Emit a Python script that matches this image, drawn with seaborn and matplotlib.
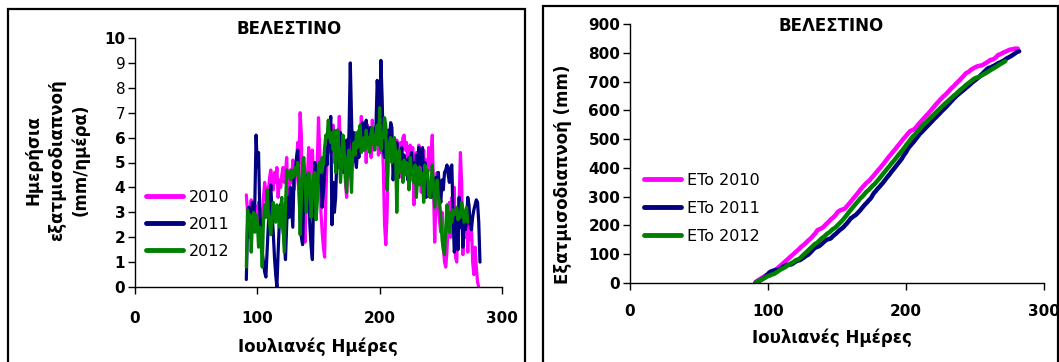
import numpy as np
import pandas as pd
import matplotlib
matplotlib.use("Agg")
import matplotlib.pyplot as plt
from matplotlib.patches import Rectangle
import seaborn as sns

# Daily reference evapotranspiration ETo (mm/day), Velestino, from Julian day 91
first_day = 91
eto_2010 = [
    3.7, 3.0, 3.2, 2.9, 3.5, 2.6, 3.1, 3.3, 2.4, 2.8,
    3.4, 2.1, 1.8, 2.9, 3.6, 4.2, 3.5, 4.0, 3.8, 4.4,
    4.7, 4.1, 3.9, 4.6, 4.2, 4.8, 3.6, 4.3, 4.0, 4.5,
    4.8, 4.2, 4.6, 5.2, 3.8, 3.5, 4.7, 4.2, 5.1, 3.9,
    4.3, 5.0, 5.8, 5.0, 7.0, 6.1, 2.2, 2.5,
    1.8, 3.5, 4.6, 5.6, 4.0, 5.2, 5.5, 4.4, 3.2, 4.8,
    5.0, 6.8, 5.5, 3.0, 2.2, 1.6, 1.2, 3.6, 5.1, 5.8,
    6.2, 5.4, 5.9, 6.5, 5.0, 6.0, 6.3, 5.5, 6.85, 5.2,
    5.8, 4.6, 5.9, 4.2, 3.6, 4.8, 6.0, 5.2, 5.6, 6.2,
    5.4, 6.1, 4.9, 5.7, 6.3, 5.5, 6.85, 6.1, 5.8, 6.6,
    5.0, 6.5, 5.6, 6.0, 5.2, 6.7, 5.5, 6.2, 5.8, 6.4, 5.3, 5.9,
    5.4, 6.0, 4.8, 2.5, 1.7, 2.8, 5.2, 5.8, 6.1, 5.5,
    5.0, 5.6, 4.7, 5.9, 5.2, 4.4, 5.8, 5.4, 6.0, 6.1,
    5.5, 5.8, 4.9, 5.2, 5.7, 4.3, 5.6, 3.3, 5.0, 5.4,
    4.6, 5.7, 5.2, 3.8, 4.8, 5.5, 4.4, 5.1, 4.2, 5.6,
    4.7, 5.2, 6.1, 4.0, 1.8, 3.5, 4.6, 3.2, 2.6,
    2.2, 3.0, 1.6, 1.0, 0.8, 1.4, 2.5, 3.4, 2.0, 3.6,
    2.8, 4.0, 1.2, 1.0, 2.9, 3.5, 5.4, 4.2, 1.3, 2.6,
    2.0, 3.0, 1.4, 2.8, 1.9, 2.5, 1.0, 0.5, 1.6, 0.8, 0.2, 0.0,
]
eto_2011 = [
    0.3, 2.5, 3.2, 2.0, 2.8, 3.4, 2.6, 3.5, 6.1, 4.8,
    5.4, 3.0, 2.2, 1.4, 1.0, 0.6, 0.4, 1.5, 2.5, 3.3,
    4.1, 3.0, 2.2, 1.2, 0.5, 0.0, 1.4, 2.6, 3.3, 3.4,
    2.3, 1.8, 1.1, 2.5, 3.6, 2.8, 4.0, 3.2, 2.4, 4.5,
    4.6, 5.2, 5.5, 4.0, 2.6, 2.0, 1.7, 3.8,
    4.3, 4.2, 4.5, 3.9, 2.4, 1.6, 1.1, 3.5, 5.0, 4.4,
    3.6, 4.8, 4.2, 5.0, 3.2, 3.8, 4.5, 5.6, 4.9, 6.0,
    5.8, 6.85, 2.5, 4.2, 3.0, 3.6, 5.2, 4.8, 5.6, 6.2,
    5.4, 6.0, 4.6, 5.2, 5.9, 4.5, 6.4, 9.0, 6.8, 5.0,
    6.2, 5.4, 4.8, 6.0, 5.2, 6.3, 5.8, 6.6, 5.5, 6.0,
    6.7, 6.2, 5.6, 6.4, 5.9, 6.3, 5.8, 6.1, 6.5, 8.3, 7.5, 6.0,
    9.1, 7.6, 5.6, 5.2, 6.0, 5.5, 6.3, 5.8, 6.6, 6.4,
    4.3, 5.0, 4.6, 5.8, 4.4, 5.2, 4.9, 5.6, 4.8, 5.3,
    4.6, 5.1, 4.3, 5.2, 4.8, 5.4, 4.5, 5.0, 4.2, 5.3,
    4.8, 5.6, 5.4, 4.9, 5.6, 4.3, 5.0, 3.6, 4.4, 3.8,
    4.2, 3.6, 4.5, 4.0, 3.6, 4.4, 4.0, 4.6, 3.7,
    3.4, 4.3, 3.9, 4.6, 4.7, 4.9, 4.5, 4.2, 4.8, 4.9,
    2.8, 1.4, 1.8, 3.0, 1.5, 3.6, 2.4, 3.3, 1.6, 2.7,
    2.3, 2.6, 3.6, 3.3, 2.5, 2.3, 2.8, 3.1, 3.3, 3.5, 3.4, 2.6, 1.0,
]
eto_2012 = [
    0.8, 3.1, 2.5, 2.9, 1.4, 2.6, 3.0, 2.2, 2.9, 2.6,
    1.6, 2.4, 2.0, 0.8, 2.6, 3.3, 2.8, 3.9, 3.0, 2.5,
    2.1, 2.8, 3.4, 3.0, 2.6, 3.3, 3.2, 2.4, 3.1, 3.6,
    2.5, 1.4, 3.2, 4.7, 4.5, 4.6, 4.3, 4.7, 4.4, 4.6,
    4.8, 4.5, 5.0, 4.2, 2.1, 3.5, 4.9, 5.2,
    4.4, 3.0, 4.0, 4.6, 4.2, 2.8, 3.8, 4.5, 4.6, 2.7,
    3.4, 4.8, 5.0, 4.6, 5.2, 4.9, 5.6, 6.1, 6.0, 6.7,
    6.1, 5.8, 6.2, 5.5, 6.3, 4.6, 6.0, 6.3, 5.2, 4.2,
    5.0, 6.1, 5.5, 4.4, 3.8, 5.2, 5.5, 4.7, 3.8, 5.4,
    5.8, 5.3, 6.2, 5.6, 6.0, 6.5, 5.4, 5.8, 6.0, 5.5,
    6.3, 5.6, 6.0, 5.4, 6.2, 6.4, 5.8, 5.5, 6.1, 6.5, 5.7, 7.2,
    5.5, 6.2, 6.0, 6.8, 6.5, 3.9, 5.2, 5.8, 6.0, 5.0,
    5.6, 6.0, 5.4, 3.0, 4.8, 5.5, 4.6, 5.0, 4.2, 5.1,
    4.5, 5.0, 4.8, 3.9, 5.2, 4.6, 4.7, 4.2, 4.9, 3.6,
    4.3, 4.8, 4.1, 4.6, 4.3, 3.4, 4.9, 4.4, 4.7, 3.7,
    3.6, 4.2, 4.9, 4.0, 3.2, 3.9, 4.3, 3.6, 3.4,
    2.8, 1.9, 1.5, 1.3, 2.4, 3.3, 2.8, 2.2, 3.0, 2.6,
    3.1, 2.9, 3.0, 3.2, 2.7, 3.0, 2.8, 3.4, 3.1, 2.6, 2.9, 3.2, 2.6,
]

years = ["2010", "2011", "2012"]
series = [eto_2010, eto_2011, eto_2012]
colors = ["#FF00FF", "#000080", "#008000"]

station = "ΒΕΛΕΣΤΙΝΟ"
x_label = "Ιουλιανές Ημέρες"
y_label_daily = "Ημερήσια\nεξατμισοδιαπνοή\n(mm/ημέρα)"
y_label_cum = "Εξατμισοδιαπνοή (mm)"
cum_prefix = "ETo "

frames = []
for yr, vals in zip(years, series):
    vals = np.asarray(vals, dtype=float)
    frames.append(pd.DataFrame({
        "day": np.arange(first_day, first_day + len(vals)),
        "eto": vals,
        "cum": np.cumsum(vals),
        "year": yr,
    }))
df = pd.concat(frames, ignore_index=True)

sns.set_theme(style="white")
plt.rcParams["font.family"] = ["DejaVu Sans"]
plt.rcParams["text.color"] = "black"
plt.rcParams["axes.labelcolor"] = "black"
plt.rcParams["xtick.color"] = "black"
plt.rcParams["ytick.color"] = "black"

W, H = 1059, 362
fig = plt.figure(figsize=(W / 100, H / 100), dpi=100)
fig.patch.set_facecolor("white")

def fx(px):
    return px / W

def fy(py):
    return 1 - py / H

ax1 = fig.add_axes([fx(135), fy(287), fx(502) - fx(135), fy(38) - fy(287)])
ax2 = fig.add_axes([fx(630), fy(283), fx(1044) - fx(630), fy(24) - fy(283)])

# panel frames
for x0, x1, y0 in [(8, 525, 9), (543, 1058, 6)]:
    fig.patches.append(Rectangle((fx(x0), -0.1), fx(x1) - fx(x0), fy(y0) + 0.1,
                                 transform=fig.transFigure, fill=False,
                                 edgecolor="black", linewidth=1.6, zorder=0))

for yr, col in zip(years, colors):
    sub = df[df["year"] == yr]
    sns.lineplot(data=sub, x="day", y="eto", ax=ax1, color=col, linewidth=2.3,
                 label=yr, estimator=None, sort=False)
    sns.lineplot(data=sub, x="day", y="cum", ax=ax2, color=col, linewidth=3.2,
                 label=cum_prefix + yr, estimator=None, sort=False)

for ax in (ax1, ax2):
    ax.set_facecolor("white")
    for s in ("top", "right"):
        ax.spines[s].set_visible(False)
    for s in ("left", "bottom"):
        ax.spines[s].set_color("black")
        ax.spines[s].set_linewidth(1.0)
    ax.set_xlim(0, 300)
    ax.set_xticks([0, 100, 200, 300])
    ax.set_xlabel("")
    ax.set_ylabel("")
    ax.tick_params(axis="both", which="major", direction="out", length=5,
                   width=1.0, color="black", labelcolor="black", labelsize=11,
                   bottom=True, left=True)
    for lab in ax.get_xticklabels() + ax.get_yticklabels():
        lab.set_fontweight("bold")

ax1.set_ylim(0, 10)
ax1.set_yticks(range(0, 11))
ax1.tick_params(axis="x", pad=12)
ax1.tick_params(axis="y", pad=2)
ax2.set_ylim(0, 900)
ax2.set_yticks(range(0, 901, 100))
ax2.tick_params(axis="x", pad=10)
ax2.tick_params(axis="y", pad=2)

leg1 = ax1.legend(loc="upper left", bbox_to_anchor=(fx(146), fy(190)),
                  bbox_transform=fig.transFigure, frameon=False, fontsize=11.5,
                  handlelength=2.3, handletextpad=0.4, labelspacing=0.75,
                  borderpad=0, borderaxespad=0)
leg2 = ax2.legend(loc="upper left", bbox_to_anchor=(fx(644), fy(173)),
                  bbox_transform=fig.transFigure, frameon=False, fontsize=11.5,
                  handlelength=2.3, handletextpad=0.4, labelspacing=0.8,
                  borderpad=0, borderaxespad=0)
for leg in (leg1, leg2):
    for h in leg.get_lines():
        h.set_linewidth(3.5)
    for t in leg.get_texts():
        t.set_color("black")

fig.text(fx(289), fy(29), station, ha="center", va="center",
         fontsize=12, fontweight="bold")
fig.text(fx(831), fy(26), station, ha="center", va="center",
         fontsize=12, fontweight="bold")

fig.text(fx(318), fy(347), x_label, ha="center", va="center",
         fontsize=12, fontweight="bold")
fig.text(fx(832), fy(338), x_label, ha="center", va="center",
         fontsize=12, fontweight="bold")

fig.text(fx(57), fy(160), y_label_daily, ha="center", va="center",
         rotation=90, fontsize=12, fontweight="bold", linespacing=1.35,
         multialignment="center")
fig.text(fx(563), fy(174), y_label_cum, ha="center", va="center",
         rotation=90, fontsize=12, fontweight="bold")

fig.savefig("out.png", dpi=100, facecolor="white")
